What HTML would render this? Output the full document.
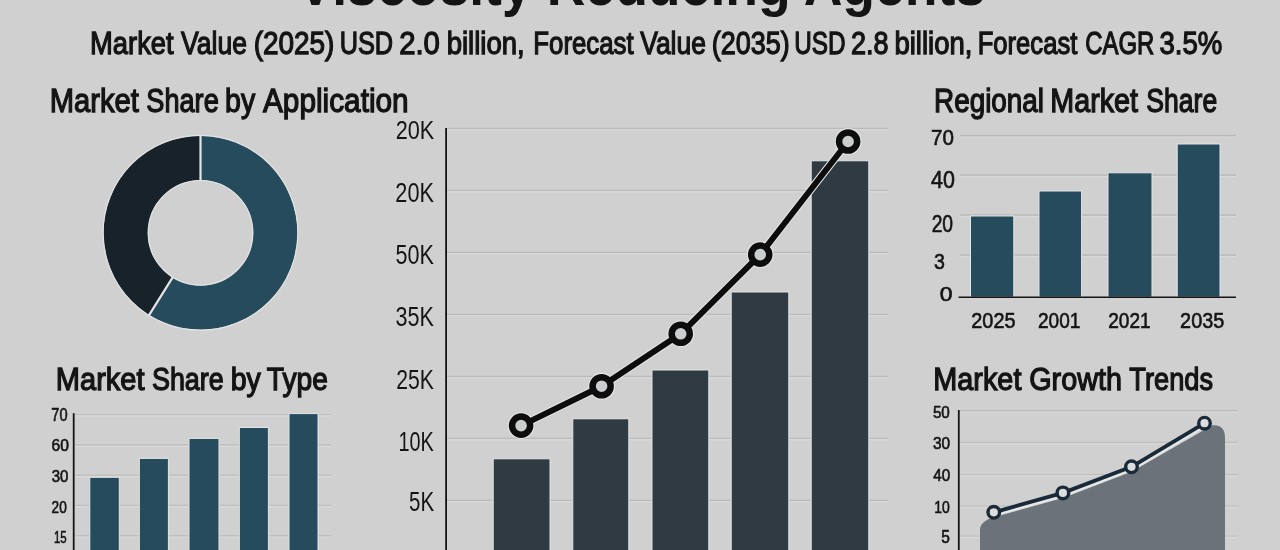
<!DOCTYPE html>
<html><head><meta charset="utf-8"><style>
html,body{margin:0;padding:0;width:1280px;height:550px;overflow:hidden;background:#cfd0cf;}
svg{display:block;font-family:'Liberation Sans', sans-serif;will-change:transform;}
</style></head><body>
<svg width="1280" height="550" viewBox="0 0 1280 550">
<rect width="1280" height="550" fill="#cfd0cf"/>
<text x="297.46" y="5.0" font-size="59.0" font-weight="700" fill="#141414" textLength="687.78" lengthAdjust="spacingAndGlyphs">Viscosity Reducing Agents</text>
<text x="90.06" y="54.1" font-size="32.17" font-weight="400" fill="#141414" textLength="83.56" lengthAdjust="spacingAndGlyphs" stroke="#141414" stroke-width="1.3">Market</text>
<text x="181.12" y="54.1" font-size="32.17" font-weight="400" fill="#141414" textLength="65.82" lengthAdjust="spacingAndGlyphs" stroke="#141414" stroke-width="1.3">Value</text>
<text x="253.67" y="54.1" font-size="32.17" font-weight="400" fill="#141414" textLength="80.77" lengthAdjust="spacingAndGlyphs" stroke="#141414" stroke-width="1.3">(2025)</text>
<text x="339.65" y="54.1" font-size="32.17" font-weight="400" fill="#141414" textLength="53.37" lengthAdjust="spacingAndGlyphs" stroke="#141414" stroke-width="1.3">USD</text>
<text x="399.18" y="54.1" font-size="32.17" font-weight="400" fill="#141414" textLength="40.74" lengthAdjust="spacingAndGlyphs" stroke="#141414" stroke-width="1.3">2.0</text>
<text x="446.66" y="54.1" font-size="32.17" font-weight="400" fill="#141414" textLength="77.96" lengthAdjust="spacingAndGlyphs" stroke="#141414" stroke-width="1.3">billion,</text>
<text x="533.28" y="54.1" font-size="32.17" font-weight="400" fill="#141414" textLength="100.43" lengthAdjust="spacingAndGlyphs" stroke="#141414" stroke-width="1.3">Forecast</text>
<text x="640.22" y="54.1" font-size="32.17" font-weight="400" fill="#141414" textLength="65.72" lengthAdjust="spacingAndGlyphs" stroke="#141414" stroke-width="1.3">Value</text>
<text x="711.83" y="54.1" font-size="32.17" font-weight="400" fill="#141414" textLength="77.9" lengthAdjust="spacingAndGlyphs" stroke="#141414" stroke-width="1.3">(2035)</text>
<text x="794.13" y="54.1" font-size="32.17" font-weight="400" fill="#141414" textLength="51.35" lengthAdjust="spacingAndGlyphs" stroke="#141414" stroke-width="1.3">USD</text>
<text x="850.9" y="54.1" font-size="32.17" font-weight="400" fill="#141414" textLength="37.64" lengthAdjust="spacingAndGlyphs" stroke="#141414" stroke-width="1.3">2.8</text>
<text x="894.46" y="54.1" font-size="32.17" font-weight="400" fill="#141414" textLength="77.96" lengthAdjust="spacingAndGlyphs" stroke="#141414" stroke-width="1.3">billion,</text>
<text x="977.7" y="54.1" font-size="32.17" font-weight="400" fill="#141414" textLength="99.61" lengthAdjust="spacingAndGlyphs" stroke="#141414" stroke-width="1.3">Forecast</text>
<text x="1085.25" y="54.1" font-size="32.17" font-weight="400" fill="#141414" textLength="69.07" lengthAdjust="spacingAndGlyphs" stroke="#141414" stroke-width="1.3">CAGR</text>
<text x="1159.45" y="54.1" font-size="32.17" font-weight="400" fill="#141414" textLength="62.75" lengthAdjust="spacingAndGlyphs" stroke="#141414" stroke-width="1.3">3.5%</text>
<text x="49.82" y="112.1" font-size="32.9" font-weight="400" fill="#141414" textLength="89.11" lengthAdjust="spacingAndGlyphs" stroke="#141414" stroke-width="1.3">Market</text>
<text x="146.33" y="112.1" font-size="32.9" font-weight="400" fill="#141414" textLength="72.44" lengthAdjust="spacingAndGlyphs" stroke="#141414" stroke-width="1.3">Share</text>
<text x="225.05" y="112.1" font-size="32.9" font-weight="400" fill="#141414" textLength="30.08" lengthAdjust="spacingAndGlyphs" stroke="#141414" stroke-width="1.3">by</text>
<text x="263.0" y="112.1" font-size="32.9" font-weight="400" fill="#141414" textLength="145.65" lengthAdjust="spacingAndGlyphs" stroke="#141414" stroke-width="1.3">Application</text>
<text x="934.02" y="112.1" font-size="32.54" font-weight="400" fill="#141414" textLength="110.01" lengthAdjust="spacingAndGlyphs" stroke="#141414" stroke-width="1.3">Regional</text>
<text x="1050.36" y="112.1" font-size="32.54" font-weight="400" fill="#141414" textLength="87.67" lengthAdjust="spacingAndGlyphs" stroke="#141414" stroke-width="1.3">Market</text>
<text x="1146.36" y="112.1" font-size="32.54" font-weight="400" fill="#141414" textLength="70.78" lengthAdjust="spacingAndGlyphs" stroke="#141414" stroke-width="1.3">Share</text>
<text x="55.83" y="389.75" font-size="32.17" font-weight="400" fill="#141414" textLength="88.7" lengthAdjust="spacingAndGlyphs" stroke="#141414" stroke-width="1.3">Market</text>
<text x="151.94" y="389.75" font-size="32.17" font-weight="400" fill="#141414" textLength="71.82" lengthAdjust="spacingAndGlyphs" stroke="#141414" stroke-width="1.3">Share</text>
<text x="230.7" y="389.75" font-size="32.17" font-weight="400" fill="#141414" textLength="30.08" lengthAdjust="spacingAndGlyphs" stroke="#141414" stroke-width="1.3">by</text>
<text x="266.85" y="389.75" font-size="32.17" font-weight="400" fill="#141414" textLength="61.11" lengthAdjust="spacingAndGlyphs" stroke="#141414" stroke-width="1.3">Type</text>
<text x="933.34" y="389.75" font-size="32.03" font-weight="400" fill="#141414" textLength="88.09" lengthAdjust="spacingAndGlyphs" stroke="#141414" stroke-width="1.3">Market</text>
<text x="1029.21" y="389.75" font-size="32.03" font-weight="400" fill="#141414" textLength="92.7" lengthAdjust="spacingAndGlyphs" stroke="#141414" stroke-width="1.3">Growth</text>
<text x="1129.37" y="389.75" font-size="32.03" font-weight="400" fill="#141414" textLength="83.69" lengthAdjust="spacingAndGlyphs" stroke="#141414" stroke-width="1.3">Trends</text>
<path d="M200.50,135.80 A97,97 0 1 1 149.10,315.06 L172.57,277.49 A52.7,52.7 0 1 0 200.50,180.10 Z" fill="#264b5d"/>
<path d="M149.10,315.06 A97,97 0 0 1 200.50,135.80 L200.50,180.10 A52.7,52.7 0 0 0 172.57,277.49 Z" fill="#17222a"/>
<line x1="200.50" y1="181.10" x2="200.50" y2="134.80" stroke="#e4e6e6" stroke-width="2.2"/>
<line x1="173.10" y1="276.64" x2="148.57" y2="315.91" stroke="#e4e6e6" stroke-width="2.2"/>
<circle cx="200.5" cy="232.8" r="97.4" fill="none" stroke="#e2e4e4" stroke-width="1.2"/>
<circle cx="200.5" cy="232.8" r="52.300000000000004" fill="none" stroke="#e2e4e4" stroke-width="1.2"/>
<line x1="447" y1="130.0" x2="888" y2="130.0" stroke="#d9dad9" stroke-width="1"/>
<line x1="447" y1="128.4" x2="888" y2="128.4" stroke="#b9bab9" stroke-width="1.4"/>
<line x1="447" y1="192.0" x2="888" y2="192.0" stroke="#d9dad9" stroke-width="1"/>
<line x1="447" y1="190.4" x2="888" y2="190.4" stroke="#b9bab9" stroke-width="1.4"/>
<line x1="447" y1="254.0" x2="888" y2="254.0" stroke="#d9dad9" stroke-width="1"/>
<line x1="447" y1="252.4" x2="888" y2="252.4" stroke="#b9bab9" stroke-width="1.4"/>
<line x1="447" y1="316.0" x2="888" y2="316.0" stroke="#d9dad9" stroke-width="1"/>
<line x1="447" y1="314.4" x2="888" y2="314.4" stroke="#b9bab9" stroke-width="1.4"/>
<line x1="447" y1="378.0" x2="888" y2="378.0" stroke="#d9dad9" stroke-width="1"/>
<line x1="447" y1="376.4" x2="888" y2="376.4" stroke="#b9bab9" stroke-width="1.4"/>
<line x1="447" y1="440.0" x2="888" y2="440.0" stroke="#d9dad9" stroke-width="1"/>
<line x1="447" y1="438.4" x2="888" y2="438.4" stroke="#b9bab9" stroke-width="1.4"/>
<line x1="447" y1="502.0" x2="888" y2="502.0" stroke="#d9dad9" stroke-width="1"/>
<line x1="447" y1="500.4" x2="888" y2="500.4" stroke="#b9bab9" stroke-width="1.4"/>
<text x="395.72" y="138.5" font-size="26.57" font-weight="400" fill="#141414" textLength="38.49" lengthAdjust="spacingAndGlyphs">20K</text>
<text x="395.32" y="201.8" font-size="26.71" font-weight="400" fill="#141414" textLength="38.6" lengthAdjust="spacingAndGlyphs">20K</text>
<text x="395.54" y="263.7" font-size="27.0" font-weight="400" fill="#141414" textLength="38.37" lengthAdjust="spacingAndGlyphs">50K</text>
<text x="395.54" y="326.3" font-size="27.0" font-weight="400" fill="#141414" textLength="38.37" lengthAdjust="spacingAndGlyphs">35K</text>
<text x="396.24" y="389.1" font-size="27.29" font-weight="400" fill="#141414" textLength="37.66" lengthAdjust="spacingAndGlyphs">25K</text>
<text x="398.51" y="450.9" font-size="27.29" font-weight="400" fill="#141414" textLength="35.38" lengthAdjust="spacingAndGlyphs">10K</text>
<text x="409.08" y="511.0" font-size="27.25" font-weight="400" fill="#141414" textLength="25.09" lengthAdjust="spacingAndGlyphs">5K</text>
<rect x="493.2" y="458.8" width="56.80000000000001" height="141.2" fill="#2f3a42" stroke="#e2e4e4" stroke-width="1"/>
<rect x="572.8" y="418.8" width="56.0" height="181.2" fill="#2f3a42" stroke="#e2e4e4" stroke-width="1"/>
<rect x="652" y="370" width="56.799999999999955" height="230" fill="#2f3a42" stroke="#e2e4e4" stroke-width="1"/>
<rect x="731.2" y="292" width="57.59999999999991" height="308" fill="#2f3a42" stroke="#e2e4e4" stroke-width="1"/>
<rect x="811.2" y="160.8" width="57.59999999999991" height="439.2" fill="#2f3a42" stroke="#e2e4e4" stroke-width="1"/>
<line x1="446.1" y1="128" x2="446.1" y2="560" stroke="#151515" stroke-width="1.8"/>
<path d="M521.1,425.6 L601.6,386.2 L680.7,333.8 L760.2,254.6 L848.1,141.5" fill="none" stroke="#e4e6e6" stroke-width="8" stroke-linejoin="round"/>
<circle cx="521.1" cy="425.6" r="13.4" fill="#e4e6e6"/>
<circle cx="601.6" cy="386.2" r="13.4" fill="#e4e6e6"/>
<circle cx="680.7" cy="333.8" r="13.4" fill="#e4e6e6"/>
<circle cx="760.2" cy="254.6" r="13.4" fill="#e4e6e6"/>
<circle cx="848.1" cy="141.5" r="13.4" fill="#e4e6e6"/>
<path d="M521.1,425.6 L601.6,386.2 L680.7,333.8 L760.2,254.6 L848.1,141.5" fill="none" stroke="#0d0d0d" stroke-width="6" stroke-linejoin="round"/>
<circle cx="521.1" cy="425.6" r="9.05" fill="#cbcece" stroke="#0d0d0d" stroke-width="6.5"/>
<circle cx="601.6" cy="386.2" r="9.05" fill="#cbcece" stroke="#0d0d0d" stroke-width="6.5"/>
<circle cx="680.7" cy="333.8" r="9.05" fill="#cbcece" stroke="#0d0d0d" stroke-width="6.5"/>
<circle cx="760.2" cy="254.6" r="9.05" fill="#cbcece" stroke="#0d0d0d" stroke-width="6.5"/>
<circle cx="848.1" cy="141.5" r="9.05" fill="#cbcece" stroke="#0d0d0d" stroke-width="6.5"/>
<line x1="960" y1="137.1" x2="1236" y2="137.1" stroke="#d9dad9" stroke-width="1"/>
<line x1="960" y1="135.5" x2="1236" y2="135.5" stroke="#b9bab9" stroke-width="1.4"/>
<line x1="960" y1="176.6" x2="1236" y2="176.6" stroke="#d9dad9" stroke-width="1"/>
<line x1="960" y1="175" x2="1236" y2="175" stroke="#b9bab9" stroke-width="1.4"/>
<line x1="960" y1="216.6" x2="1236" y2="216.6" stroke="#d9dad9" stroke-width="1"/>
<line x1="960" y1="215" x2="1236" y2="215" stroke="#b9bab9" stroke-width="1.4"/>
<line x1="960" y1="256.6" x2="1236" y2="256.6" stroke="#d9dad9" stroke-width="1"/>
<line x1="960" y1="255" x2="1236" y2="255" stroke="#b9bab9" stroke-width="1.4"/>
<rect x="970.5" y="216" width="43.299999999999955" height="81.19999999999999" fill="#264b5d" stroke="#e4e6e6" stroke-width="1"/>
<rect x="1039" y="191" width="42.59999999999991" height="106.19999999999999" fill="#264b5d" stroke="#e4e6e6" stroke-width="1"/>
<rect x="1108" y="172.8" width="44" height="124.39999999999998" fill="#264b5d" stroke="#e4e6e6" stroke-width="1"/>
<rect x="1177.2" y="144" width="42.799999999999955" height="153.2" fill="#264b5d" stroke="#e4e6e6" stroke-width="1"/>
<line x1="958.5" y1="297.2" x2="1236" y2="297.2" stroke="#151515" stroke-width="1.6"/>
<text x="931.07" y="145.4" font-size="21.71" font-weight="400" fill="#141414" textLength="22.9" lengthAdjust="spacingAndGlyphs" stroke="#141414" stroke-width="0.6">70</text>
<text x="931.06" y="187.9" font-size="23.0" font-weight="400" fill="#141414" textLength="23.84" lengthAdjust="spacingAndGlyphs" stroke="#141414" stroke-width="0.6">40</text>
<text x="931.63" y="231.9" font-size="23.14" font-weight="400" fill="#141414" textLength="21.48" lengthAdjust="spacingAndGlyphs" stroke="#141414" stroke-width="0.6">20</text>
<text x="933.92" y="268.9" font-size="21.29" font-weight="400" fill="#141414" textLength="10.89" lengthAdjust="spacingAndGlyphs" stroke="#141414" stroke-width="0.6">3</text>
<text x="939.88" y="300.7" font-size="20.29" font-weight="400" fill="#141414" textLength="12.76" lengthAdjust="spacingAndGlyphs" stroke="#141414" stroke-width="0.6">0</text>
<text x="971.31" y="328.1" font-size="22.14" font-weight="400" fill="#141414" textLength="44.18" lengthAdjust="spacingAndGlyphs" stroke="#141414" stroke-width="0.6">2025</text>
<text x="1037.95" y="328.1" font-size="22.14" font-weight="400" fill="#141414" textLength="42.4" lengthAdjust="spacingAndGlyphs" stroke="#141414" stroke-width="0.6">2001</text>
<text x="1108.25" y="328.1" font-size="22.14" font-weight="400" fill="#141414" textLength="42.4" lengthAdjust="spacingAndGlyphs" stroke="#141414" stroke-width="0.6">2021</text>
<text x="1180.11" y="328.1" font-size="22.14" font-weight="400" fill="#141414" textLength="44.13" lengthAdjust="spacingAndGlyphs" stroke="#141414" stroke-width="0.6">2035</text>
<line x1="75" y1="416.1" x2="331" y2="416.1" stroke="#d9dad9" stroke-width="1"/>
<line x1="75" y1="414.5" x2="331" y2="414.5" stroke="#bdbebd" stroke-width="1.2"/>
<line x1="75" y1="446.40000000000003" x2="331" y2="446.40000000000003" stroke="#d9dad9" stroke-width="1"/>
<line x1="75" y1="444.8" x2="331" y2="444.8" stroke="#bdbebd" stroke-width="1.2"/>
<line x1="75" y1="476.70000000000005" x2="331" y2="476.70000000000005" stroke="#d9dad9" stroke-width="1"/>
<line x1="75" y1="475.1" x2="331" y2="475.1" stroke="#bdbebd" stroke-width="1.2"/>
<line x1="75" y1="507.0" x2="331" y2="507.0" stroke="#d9dad9" stroke-width="1"/>
<line x1="75" y1="505.4" x2="331" y2="505.4" stroke="#bdbebd" stroke-width="1.2"/>
<line x1="75" y1="537.3000000000001" x2="331" y2="537.3000000000001" stroke="#d9dad9" stroke-width="1"/>
<line x1="75" y1="535.7" x2="331" y2="535.7" stroke="#bdbebd" stroke-width="1.2"/>
<rect x="89.8" y="477.3" width="29.5" height="122.69999999999999" fill="#264b5d" stroke="#e4e6e6" stroke-width="1"/>
<rect x="139.3" y="458.4" width="29.099999999999994" height="141.60000000000002" fill="#264b5d" stroke="#e4e6e6" stroke-width="1"/>
<rect x="189" y="438.4" width="30" height="161.60000000000002" fill="#264b5d" stroke="#e4e6e6" stroke-width="1"/>
<rect x="239.3" y="427.5" width="29.099999999999966" height="172.5" fill="#264b5d" stroke="#e4e6e6" stroke-width="1"/>
<rect x="289" y="413.6" width="29" height="186.39999999999998" fill="#264b5d" stroke="#e4e6e6" stroke-width="1"/>
<line x1="73.7" y1="413.2" x2="73.7" y2="560" stroke="#151515" stroke-width="1.8"/>
<text x="51.37" y="421.2" font-size="17.86" font-weight="400" fill="#141414" textLength="16.25" lengthAdjust="spacingAndGlyphs" stroke="#141414" stroke-width="0.6">70</text>
<text x="51.52" y="450.7" font-size="15.57" font-weight="400" fill="#141414" textLength="17.34" lengthAdjust="spacingAndGlyphs" stroke="#141414" stroke-width="0.6">60</text>
<text x="51.7" y="482.1" font-size="16.14" font-weight="400" fill="#141414" textLength="16.63" lengthAdjust="spacingAndGlyphs" stroke="#141414" stroke-width="0.6">30</text>
<text x="51.62" y="512.7" font-size="16.57" font-weight="400" fill="#141414" textLength="15.16" lengthAdjust="spacingAndGlyphs" stroke="#141414" stroke-width="0.6">20</text>
<text x="53.94" y="543.2" font-size="17.25" font-weight="400" fill="#141414" textLength="12.74" lengthAdjust="spacingAndGlyphs" stroke="#141414" stroke-width="0.6">15</text>
<line x1="960" y1="412.3" x2="1238" y2="412.3" stroke="#d9dad9" stroke-width="1"/>
<line x1="960" y1="410.7" x2="1238" y2="410.7" stroke="#bdbebd" stroke-width="1.2"/>
<line x1="960" y1="443.90000000000003" x2="1238" y2="443.90000000000003" stroke="#d9dad9" stroke-width="1"/>
<line x1="960" y1="442.3" x2="1238" y2="442.3" stroke="#bdbebd" stroke-width="1.2"/>
<line x1="960" y1="476.1" x2="1238" y2="476.1" stroke="#d9dad9" stroke-width="1"/>
<line x1="960" y1="474.5" x2="1238" y2="474.5" stroke="#bdbebd" stroke-width="1.2"/>
<line x1="960" y1="507.6" x2="1238" y2="507.6" stroke="#d9dad9" stroke-width="1"/>
<line x1="960" y1="506" x2="1238" y2="506" stroke="#bdbebd" stroke-width="1.2"/>
<line x1="960" y1="537.6" x2="1238" y2="537.6" stroke="#d9dad9" stroke-width="1"/>
<line x1="960" y1="536" x2="1238" y2="536" stroke="#bdbebd" stroke-width="1.2"/>
<path d="M980,560 L980,530 Q980,521.3 993.8,517.3 L1062.9,497.9 L1131.5,471.8 L1212.5,425.2 Q1225,424.2 1225,438.2 L1225,560 Z" fill="#6b7279"/>
<line x1="958.8" y1="410" x2="958.8" y2="560" stroke="#151515" stroke-width="1.8"/>
<path d="M993.8,512.3 L1062.9,492.9 L1131.5,466.8 L1204.5,423.2" fill="none" stroke="#e6e8e8" stroke-width="6" stroke-linejoin="round" transform="translate(0,1.2)"/>
<path d="M993.8,512.3 L1062.9,492.9 L1131.5,466.8 L1204.5,423.2" fill="none" stroke="#1a2a38" stroke-width="3.9" stroke-linejoin="round"/>
<circle cx="993.8" cy="512.3" r="5.8" fill="#dcdede" stroke="#1a2a38" stroke-width="3.4"/>
<circle cx="1062.9" cy="492.9" r="5.8" fill="#dcdede" stroke="#1a2a38" stroke-width="3.4"/>
<circle cx="1131.5" cy="466.8" r="5.8" fill="#dcdede" stroke="#1a2a38" stroke-width="3.4"/>
<circle cx="1204.5" cy="423.2" r="5.8" fill="#dcdede" stroke="#1a2a38" stroke-width="3.4"/>
<text x="932.89" y="418.3" font-size="17.29" font-weight="400" fill="#141414" textLength="16.96" lengthAdjust="spacingAndGlyphs" stroke="#141414" stroke-width="0.6">50</text>
<text x="932.98" y="449.4" font-size="16.43" font-weight="400" fill="#141414" textLength="17.17" lengthAdjust="spacingAndGlyphs" stroke="#141414" stroke-width="0.6">30</text>
<text x="933.22" y="480.6" font-size="16.43" font-weight="400" fill="#141414" textLength="16.92" lengthAdjust="spacingAndGlyphs" stroke="#141414" stroke-width="0.6">40</text>
<text x="934.25" y="512.7" font-size="17.0" font-weight="400" fill="#141414" textLength="15.54" lengthAdjust="spacingAndGlyphs" stroke="#141414" stroke-width="0.6">10</text>
<text x="941.18" y="543.2" font-size="17.97" font-weight="400" fill="#141414" textLength="8.66" lengthAdjust="spacingAndGlyphs" stroke="#141414" stroke-width="0.6">5</text>
</svg></body></html>
